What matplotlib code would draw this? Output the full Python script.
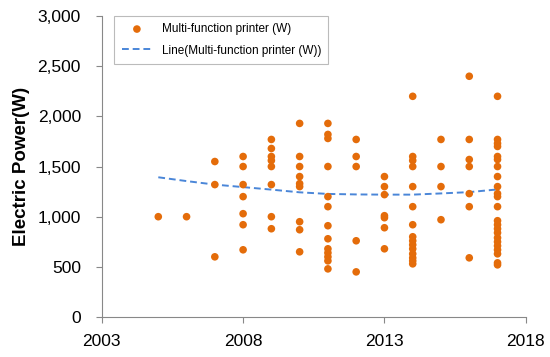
import numpy as np
import matplotlib.pyplot as plt
from matplotlib.ticker import FuncFormatter

# values, grouped by year
power_by_year = {
    2005: [1000],
    2006: [1000],
    2007: [1550, 1320, 600],
    2008: [1600, 1500, 1320, 1200, 1030, 920, 670],
    2009: [1770, 1680, 1600, 1560, 1500, 1320, 1000, 880],
    2010: [1930, 1600, 1500, 1400, 1330, 1300, 950, 870, 650],
    2011: [1930, 1820, 1780, 1500, 1200, 1100, 910, 780, 680, 640, 600, 560, 480],
    2012: [1770, 1600, 1500, 760, 450],
    2013: [1400, 1300, 1220, 1010, 990, 890, 680],
    2014: [2200, 1600, 1560, 1500, 1300, 1100, 920, 800, 760, 720, 680, 630, 590, 560, 530],
    2015: [1770, 1500, 1300, 970],
    2016: [2400, 1770, 1570, 1500, 1230, 1100, 590],
    2017: [2200, 1770, 1730, 1700, 1600, 1570, 1500, 1400, 1300, 1230, 1200, 1100,
           960, 920, 880, 840, 790, 750, 710, 670, 630, 540, 520],
}

years = np.array([y for y, vals in power_by_year.items() for _ in vals], dtype=float)
power = np.array([v for vals in power_by_year.values() for v in vals], dtype=float)

# trend line
trend_years = [2005, 2006, 2007, 2008, 2009, 2010, 2011, 2012, 2013, 2014, 2015, 2016, 2017]
trend_power = [1393, 1355, 1320, 1295, 1270, 1243, 1227, 1222, 1220, 1220, 1232, 1245, 1272]

plt.rcParams["font.family"] = ["Liberation Sans", "DejaVu Sans"]

fig = plt.figure(figsize=(5.5, 3.57), dpi=100, facecolor="white")
ax = fig.add_axes([0.185, 0.112, 0.771, 0.843])

ax.scatter(years, power, s=30, color="#E46C0A", edgecolors="none", zorder=3,
           label="Multi-function printer (W)")
ax.plot(trend_years, trend_power, ls=(0, (3.5, 2)), color="#4A86D8", lw=1.4, zorder=2,
        label="Line(Multi-function printer (W))")

ax.set_xlim(2003, 2018)
ax.set_ylim(0, 3000)
ax.set_xticks([2003, 2008, 2013, 2018])
ax.set_yticks(np.arange(0, 3001, 500))
ax.yaxis.set_major_formatter(FuncFormatter(lambda v, p: f"{int(v):,}"))
ax.tick_params(labelsize=12.5, length=4, color="#888888", width=0.8)
ax.tick_params(axis="y", pad=11)
ax.tick_params(axis="x", pad=8)

for side in ["top", "right"]:
    ax.spines[side].set_visible(False)
for side in ["left", "bottom"]:
    ax.spines[side].set_color("#888888")
    ax.spines[side].set_linewidth(0.8)

ax.set_ylabel("Electric Power(W)", fontsize=13.5, fontweight="bold", labelpad=5)

leg = ax.legend(loc="upper left", bbox_to_anchor=(0.03, 1.0), borderaxespad=0,
                fontsize=8.5, frameon=True, fancybox=False, edgecolor="#AAAAAA",
                borderpad=0.6, handlelength=2.6, labelspacing=0.8)
leg.get_frame().set_linewidth(0.8)

fig.savefig("out.png", dpi=100, facecolor="white")
